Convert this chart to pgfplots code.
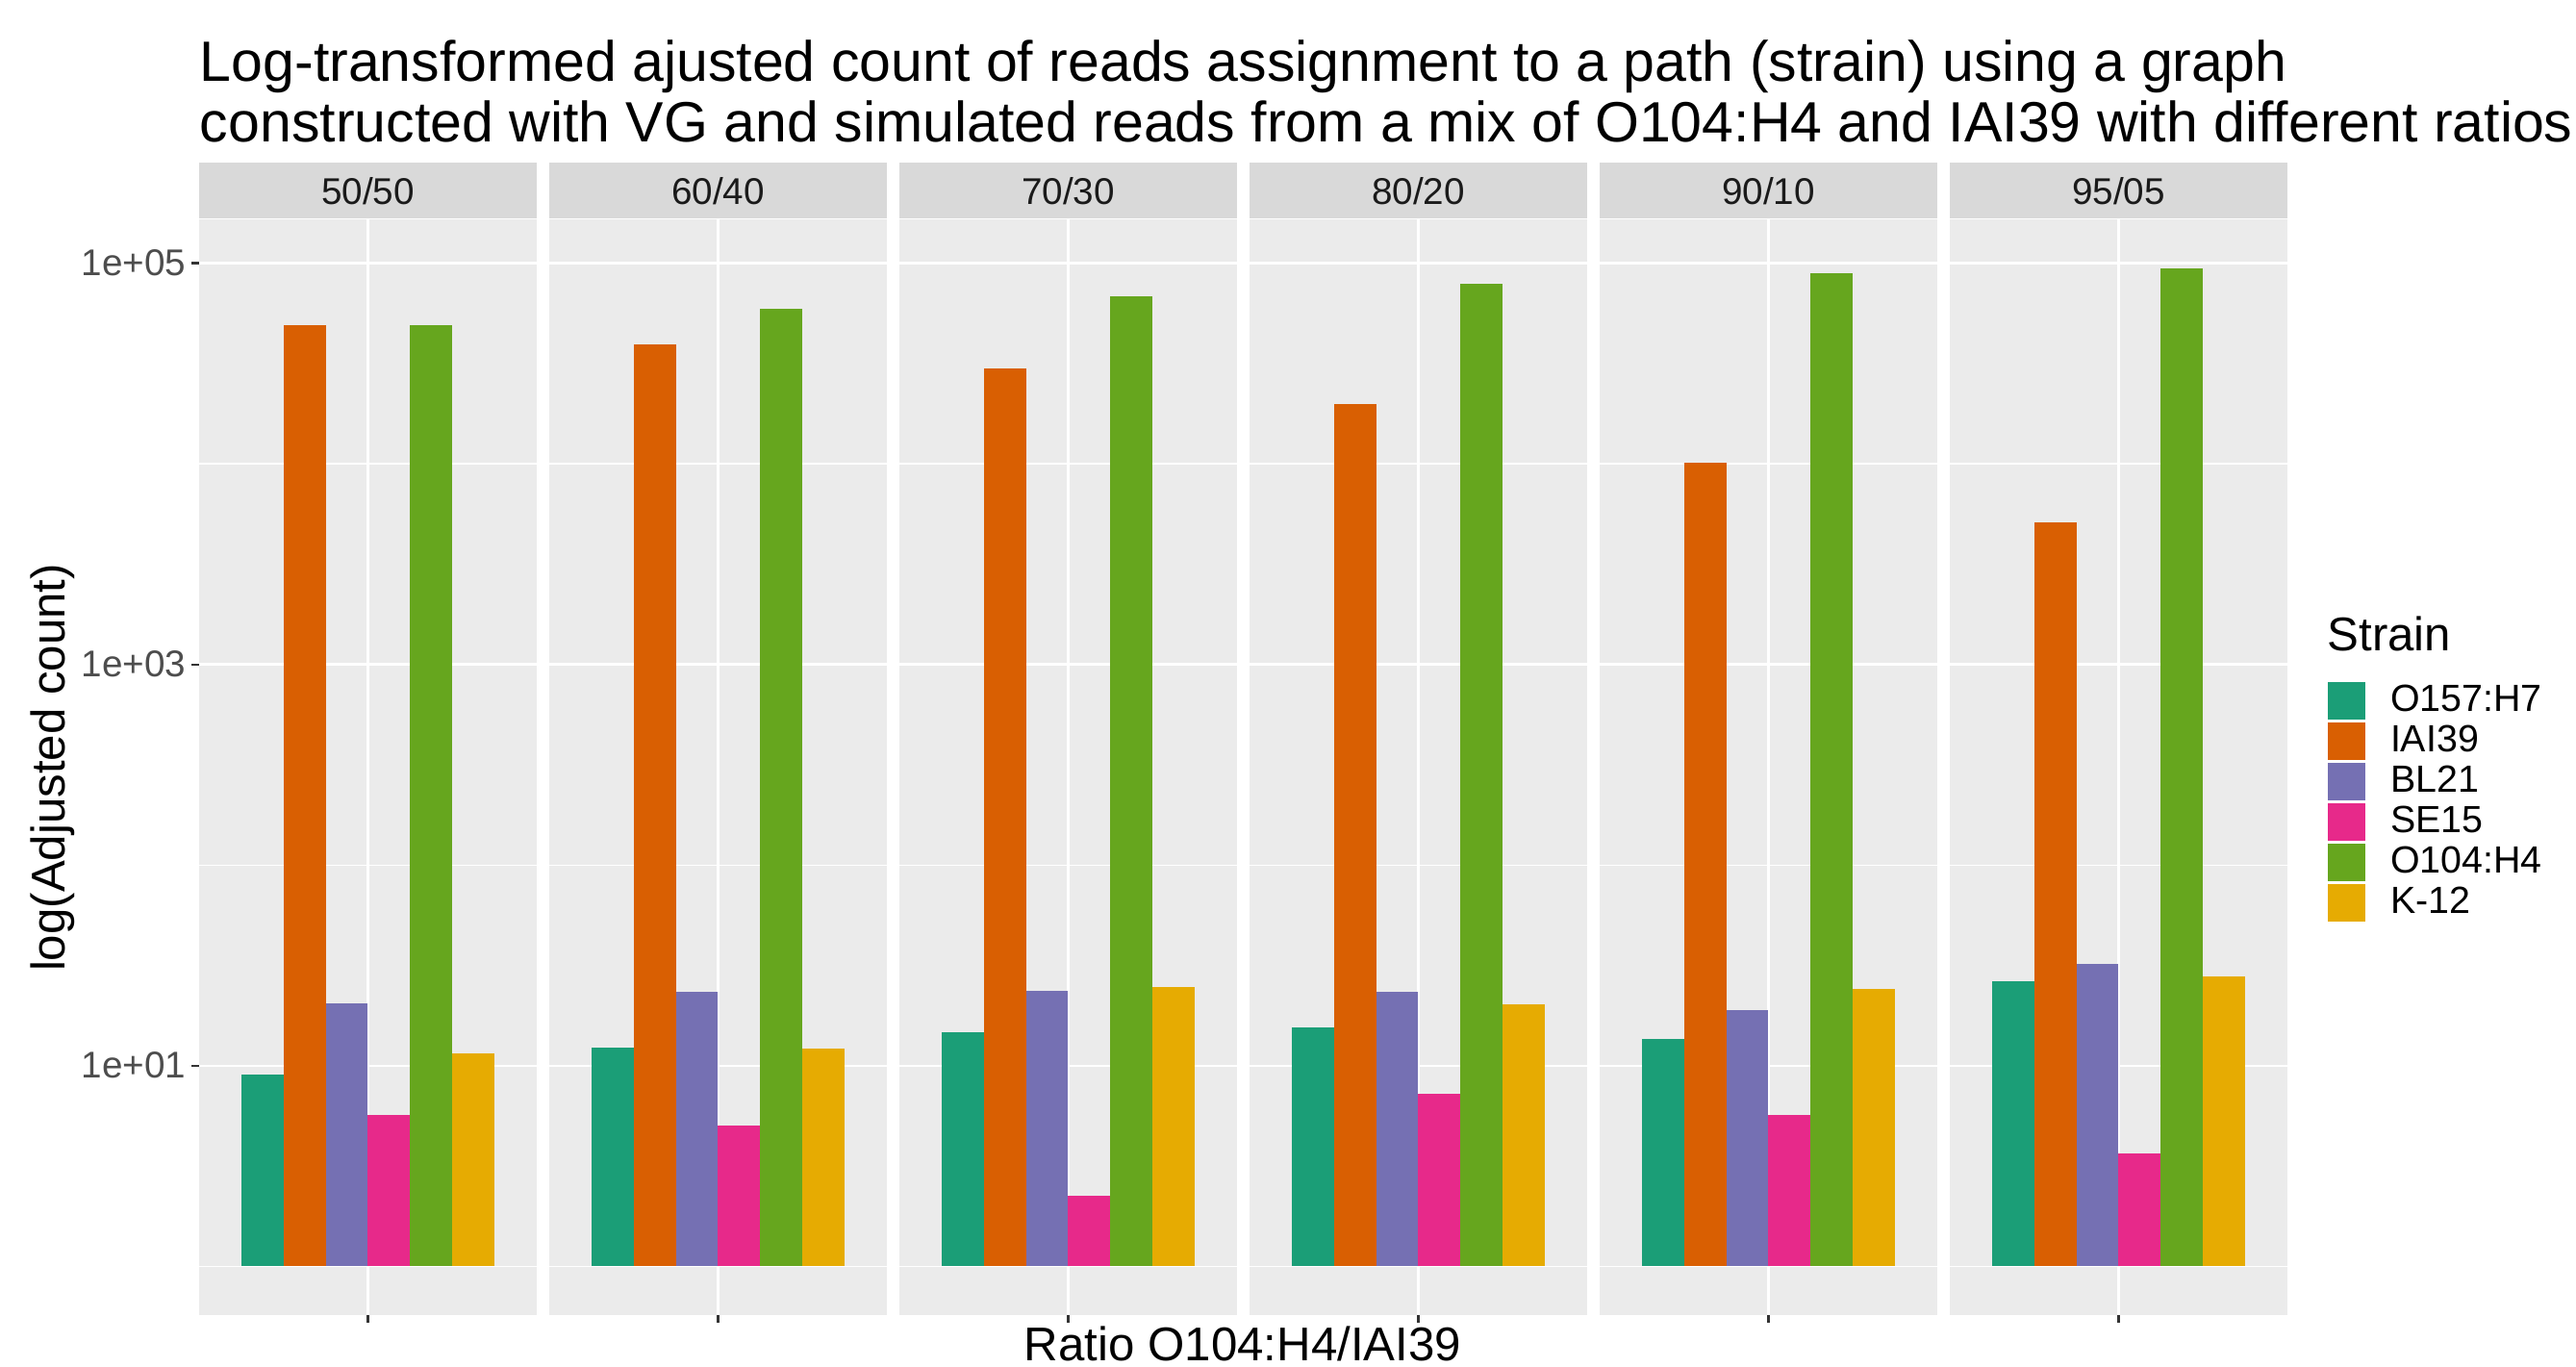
\documentclass[border=0pt]{standalone}
\usepackage{pgfplots}
\pgfplotsset{compat=1.18}
\usepackage{pgfplotstable}
\usepackage{fontspec}
\setmainfont{Liberation Sans}

\definecolor{cA}{HTML}{1B9E77}
\definecolor{cB}{HTML}{D95F02}
\definecolor{cC}{HTML}{7570B3}
\definecolor{cD}{HTML}{E7298A}
\definecolor{cE}{HTML}{66A61E}
\definecolor{cF}{HTML}{E6AB02}
\definecolor{panelbg}{HTML}{EBEBEB}
\definecolor{stripbg}{HTML}{D9D9D9}
\definecolor{ticktxt}{HTML}{4D4D4D}
\definecolor{striptxt}{HTML}{1A1A1A}
\definecolor{tickcol}{HTML}{333333}

% adjusted read counts per ratio (rows) and strain (columns)
\pgfplotstableread{
ratio  O157  IAI39  BL21  SE15  O104   K12
50/50  9.0   49200  20.5  5.67  49200  11.5
60/40  12.3  39500  23.2  5.05  59200  12.2
70/30  14.7  29800  23.6  2.25  68200  24.7
80/20  15.5  19900  23.2  7.25  78500  20.1
90/10  13.5  10100  18.9  5.67  88800  24.2
95/05  26.2  5080   32.1  3.65  94500  27.9
}\counts

\pgfplotsset{
  strainbar/.style={ybar, bar width=0.15, bar shift=0pt, draw=none, fill=#1,
    legend image code/.code={\fill[##1] (0cm,-0.195cm) rectangle (0.39cm,0.195cm);}},
}

\newcommand\facet[4]{%
\begin{axis}[
    scale only axis, width=3.505cm, height=11.392cm, anchor=south west,
    at={(#2cm,0.537cm)},
    xmin=0.4, xmax=1.6, ymode=log, ymin=0.569, ymax=165200,
    axis background/.style={fill=panelbg},
    axis line style={draw=none},
    xtick={1}, xticklabels={},
    ytick={10,1000,100000}, minor ytick={1,100,10000},
    xmajorgrids, ymajorgrids, yminorgrids,
    major grid style={white, line width=0.65pt},
    minor grid style={white, line width=0.35pt},
    tick pos=left, tick align=outside,
    major tick length=0.08cm, minor tick length=0pt,
    tick style={tickcol, line width=0.6pt},
    yticklabels={},
    title={#3},
    every axis title shift=0pt,
    title style={at={(0.5,1)}, anchor=south, yshift=0pt, fill=stripbg,
      minimum width=3.505cm, minimum height=0.582cm, inner sep=0pt,
      font=\fontsize{11}{13}\selectfont, text=striptxt},
    #4]
\addplot[strainbar=cA] table[x expr=0.625, y=O157, restrict expr to domain={\coordindex}{#1:#1}] {\counts};
\addplot[strainbar=cB] table[x expr=0.775, y=IAI39, restrict expr to domain={\coordindex}{#1:#1}] {\counts};
\addplot[strainbar=cC] table[x expr=0.925, y=BL21, restrict expr to domain={\coordindex}{#1:#1}] {\counts};
\addplot[strainbar=cD] table[x expr=1.075, y=SE15, restrict expr to domain={\coordindex}{#1:#1}] {\counts};
\addplot[strainbar=cE] table[x expr=1.225, y=O104, restrict expr to domain={\coordindex}{#1:#1}] {\counts};
\addplot[strainbar=cF] table[x expr=1.375, y=K12, restrict expr to domain={\coordindex}{#1:#1}] {\counts};
\end{axis}}

\begin{document}
\begin{tikzpicture}
\useasboundingbox (0,0) rectangle (26.78,14.21);

\facet{0}{2.072}{50/50}{yticklabels={\mbox{1e+01},\mbox{1e+03},\mbox{1e+05}},
  yticklabel style={font=\fontsize{11}{13}\selectfont, text=ticktxt, inner sep=0pt, xshift=-0.05cm}}
\facet{1}{5.712}{60/40}{ytick style={draw=none}}
\facet{2}{9.352}{70/30}{ytick style={draw=none}}
\facet{3}{12.992}{80/20}{ytick style={draw=none}}
\facet{4}{16.632}{90/10}{ytick style={draw=none}}
\facet{5}{20.272}{95/05}{ytick style={draw=none},
  legend entries={O157:H7,IAI39,BL21,SE15,O104:H4,K-12},
  legend cell align=left,
  legend style={at={(1.1187,0.5785)}, anchor=north west, draw=none, fill=none,
    inner sep=0pt, font=\fontsize{11.2}{13}\selectfont, row sep=0.03cm,
    column sep=0.26cm, nodes={inner sep=0pt}}}

\node[anchor=base west, inner sep=0pt, font=\fontsize{16.8}{20}\selectfont] at (2.072,13.36)
  {Log-transformed ajusted count of reads assignment to a path (strain) using a graph};
\node[anchor=base west, inner sep=0pt, font=\fontsize{16.8}{20}\selectfont] at (2.072,12.73)
  {constructed with VG and simulated reads from a mix of O104:H4 and IAI39 with different ratios};
\node[anchor=base, inner sep=0pt, font=\fontsize{14}{17}\selectfont] at (12.92,0.06) {Ratio O104:H4/IAI39};
\node[rotate=90, anchor=base, inner sep=0pt, font=\fontsize{14}{17}\selectfont] at (0.68,6.23) {log(Adjusted count)};
\node[anchor=base west, inner sep=0pt, font=\fontsize{14}{17}\selectfont] at (24.19,7.44) {Strain};
\end{tikzpicture}
\end{document}
